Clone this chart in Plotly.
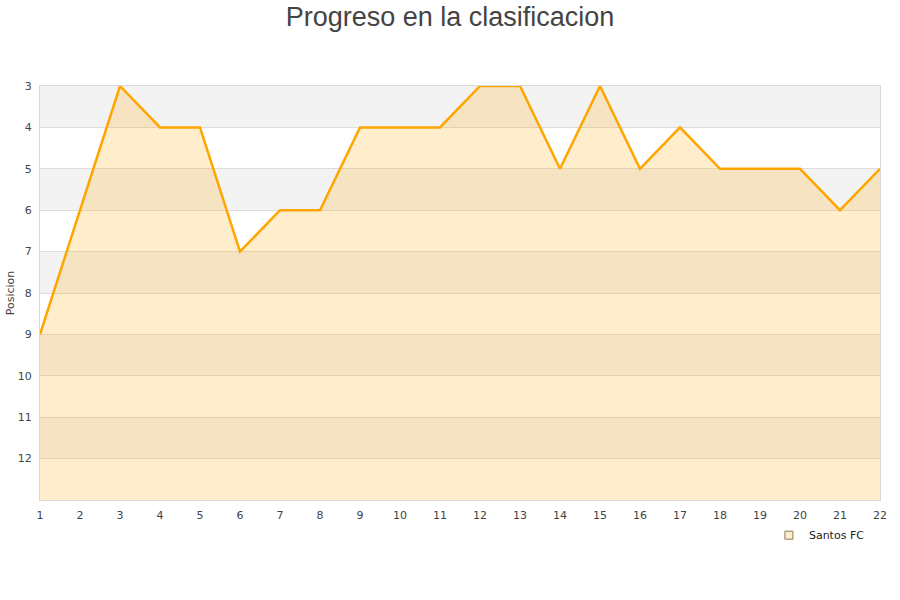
import plotly.graph_objects as go

jornadas = list(range(1, 23))
posiciones = [9, 6, 3, 4, 4, 7, 6, 6, 4, 4, 4, 3, 3, 5, 3, 5, 4, 5, 5, 5, 6, 5]
y_ticks = list(range(3, 13))
equipo = "Santos FC"

fig = go.Figure()
fig.add_trace(go.Scatter(x=jornadas, y=[13] * len(jornadas), mode="lines",
                         line=dict(width=0), showlegend=False, hoverinfo="skip"))
fig.add_trace(go.Scatter(
    x=jornadas, y=posiciones, mode="lines",
    line=dict(color="#FFA500", width=2.5),
    fill="tonexty", fillcolor="rgba(255,165,0,0.2)",
    showlegend=False,
))
fig.add_trace(go.Scatter(
    x=[None], y=[None], mode="markers", name=equipo,
    marker=dict(symbol="square", size=8, color="rgba(255,165,0,0.2)",
                line=dict(color="#8a7a5a", width=1)),
))

shapes = []
for lo in range(3, 13, 2):
    shapes.append(dict(type="rect", xref="paper", yref="y", x0=0, x1=1,
                       y0=lo, y1=lo + 1, fillcolor="#f3f3f3", line=dict(width=0),
                       layer="below"))

fig.update_layout(
    width=900, height=600,
    paper_bgcolor="white", plot_bgcolor="white",
    margin=dict(l=40, r=20, t=86, b=100, autoexpand=False),
    title=dict(text="Progreso en la clasificacion", x=0.5, xanchor="center",
               y=0.973, yanchor="middle",
               font=dict(family="Liberation Sans, Arial", size=27, color="#444")),
    font=dict(family="DejaVu Sans, Verdana", size=11, color="#444"),
    shapes=shapes,
    xaxis=dict(range=[1, 22], tickmode="array", tickvals=jornadas, automargin=False,
               showgrid=False, zeroline=False, showline=True, linecolor="#d8d8d8",
               linewidth=1, mirror=True, ticks="outside", ticklen=5,
               tickcolor="rgba(0,0,0,0)", tickfont=dict(size=11, color="#444")),
    yaxis=dict(range=[13, 3], tickmode="array", tickvals=y_ticks, automargin=False,
               showgrid=True, gridcolor="#dddddd", gridwidth=1, zeroline=False,
               showline=True, linecolor="#d8d8d8", linewidth=1, mirror=True,
               ticks="outside", ticklen=5, tickcolor="rgba(0,0,0,0)",
               tickfont=dict(size=11, color="#444"),
               title=dict(text="Posicion", font=dict(size=11, color="#444"), standoff=0)),
    legend=dict(x=0.988, xanchor="right", y=-0.05, yanchor="top", bgcolor="rgba(0,0,0,0)",
                font=dict(family="DejaVu Sans, Verdana", size=11, color="#222")),
)

fig.write_html("out.html", config={"displayModeBar": False},
               post_script="document.body.style.margin='0';")
